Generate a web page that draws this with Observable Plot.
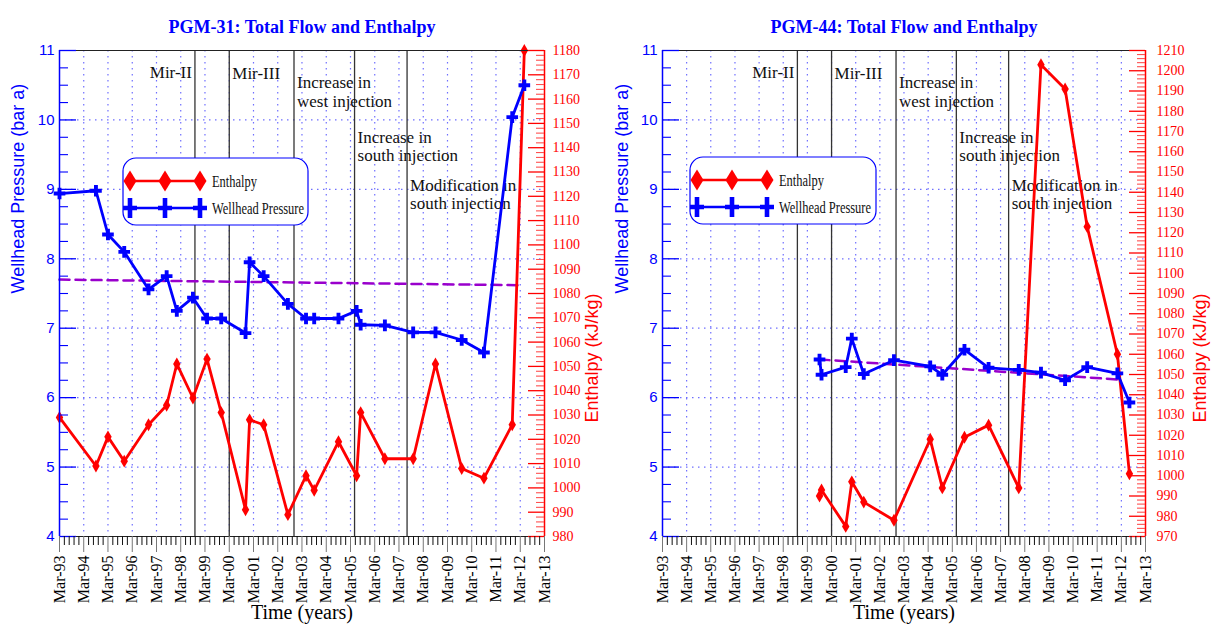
<!DOCTYPE html>
<html><head><meta charset="utf-8">
<script src="https://cdn.jsdelivr.net/npm/d3@7"></script>
<script src="https://cdn.jsdelivr.net/npm/@observablehq/plot@0.6"></script>
<style>
body{margin:0;background:#fff;}
#wrap{display:flex;width:1216px;height:624px;overflow:hidden;}
</style></head><body><div id="wrap"></div>
<script>
// ---------- data ----------
const xTickLabels = ["Mar-93","Mar-94","Mar-95","Mar-96","Mar-97","Mar-98","Mar-99","Mar-00","Mar-01","Mar-02","Mar-03","Mar-04","Mar-05","Mar-06","Mar-07","Mar-08","Mar-09","Mar-10","Mar-11","Mar-12","Mar-13"];
const pressureTicks = [4,5,6,7,8,9,10,11];
const eventDates = ["1998-10","2000-03","2002-11","2005-05","2007-07"];
const eventLabels = ["Mir-II","Mir-III","Increase in\nwest injection","Increase in\nsouth injection","Modification in\nsouth injection"];
const seriesNames = ["Enthalpy","Wellhead Pressure"];

const pgm31Dates = ["1993-03","1994-09","1995-03","1995-11","1996-11","1997-08","1998-01","1998-09","1999-04","1999-11","2000-11","2001-01","2001-08","2002-08","2003-05","2003-09","2004-09","2005-06","2005-08","2006-08","2007-10","2008-09","2009-10","2010-09","2011-11","2012-05"];
const pgm31Pressure = [8.94,8.98,8.35,8.10,7.56,7.75,7.25,7.44,7.14,7.14,6.93,7.95,7.75,7.35,7.14,7.14,7.14,7.25,7.05,7.04,6.94,6.94,6.83,6.65,10.04,10.50];
const pgm31Enthalpy = [1029,1009,1021,1011,1026,1034,1051,1037,1053,1031,991,1028,1026,989,1005,999,1019,1005,1031,1012,1012,1051,1008,1004,1026,1180];
const pgm31TrendDates = ["1993-03","2012-02"];
const pgm31TrendValues = [7.70,7.62];
const pgm31EnthalpyRange = [980,1180];

const pgm44Dates = ["1999-09","1999-10","2000-10","2001-01","2001-07","2002-10","2004-04","2004-10","2005-09","2006-09","2007-12","2008-11","2009-11","2010-10","2012-01","2012-07"];
const pgm44Pressure = [6.55,6.33,6.44,6.85,6.34,6.54,6.45,6.33,6.69,6.43,6.40,6.36,6.25,6.44,6.35,5.93];
const pgm44Enthalpy = [990,993,975,997,987,978,1018,994,1019,1025,994,1203,1191,1123,1060,1001];
const pgm44TrendDates = ["1999-09","2012-02"];
const pgm44TrendValues = [6.55,6.26];
const pgm44EnthalpyRange = [970,1210];

// ---------- rendering ----------
const parse = d3.utcParse("%Y-%m");
const BLUE = "#0000ff", RED = "#ff0000", PURPLE = "#9900cc", GRID = "#6f6fff";
const SERIF = "Liberation Serif, Times New Roman, serif";
const SANS = "Liberation Sans, Arial, sans-serif";
const YEAR_MS = 365.25 * 24 * 3600 * 1000;

function panel(cfg) {
  const W = 608, H = 624, mt = 50, mb = 88;
  const fw = W - cfg.ml - cfg.mr;
  const toP = d3.scaleLinear().domain(cfg.hRange).range([4, 11]);
  const x0 = new Date(Date.UTC(1993, 2, 1)), x1 = new Date(Date.UTC(2013, 2, 1));
  const majorX = xTickLabels.map((_, k) => new Date(Date.UTC(1993 + k, 2, 1)));
  const labelMap = new Map(majorX.map((d, i) => [+d, xTickLabels[i]]));
  const minorX = [];
  majorX.slice(0, -1).forEach(d => { for (let j = 1; j < 5; j++) minorX.push(new Date(+d + j * 0.2 * YEAR_MS)); });
  const minorP = d3.range(4, 11.001, 0.25).filter(v => Math.abs(v - Math.round(v)) > 1e-6);
  const hMajor = d3.range(cfg.hRange[0], cfg.hRange[1] + 0.1, 10);
  const hMinor = d3.range(cfg.hRange[0], cfg.hRange[1] + 0.1, 2).filter(v => v % 10 !== 0);

  const rows = cfg.dates.map((d, i) => ({date: parse(d), p: cfg.pressure[i], h: cfg.enthalpy[i]}));
  const trend = cfg.trendDates.map((d, i) => ({date: parse(d), p: cfg.trendValues[i]}));
  const events = eventDates.map((d, i) => ({date: parse(d), label: eventLabels[i], i}));
  const evTop = [10.78, 10.78, 10.64, 9.86, 9.16];

  const svg = Plot.plot({
    width: W, height: H, marginLeft: cfg.ml, marginRight: cfg.mr, marginTop: mt, marginBottom: mb,
    x: {type: "utc", domain: [x0, x1], label: null},
    y: {domain: [4, 11], label: null},
    marks: [
      // grid
      Plot.ruleY(pressureTicks.slice(1, -1), {stroke: GRID, strokeDasharray: "1.5,4.5", strokeWidth: 1.2}),
      Plot.ruleX(majorX.slice(1, -1), {stroke: GRID, strokeDasharray: "1.5,4.5", strokeWidth: 1.2}),
      // events
      Plot.ruleX(events, {x: "date", stroke: "#333", strokeWidth: 1.3}),
      Plot.text(events.slice(0, 1), {x: "date", y: d => evTop[d.i], text: "label", textAnchor: "end", lineAnchor: "top", dx: -3, fontFamily: SERIF, fontSize: 17, fill: "#111"}),
      Plot.text(events.slice(1), {x: "date", y: d => evTop[d.i], text: "label", textAnchor: "start", lineAnchor: "top", dx: 3, lineHeight: 1.07, fontFamily: SERIF, fontSize: 17, fill: "#111"}),
      // trend
      Plot.line(trend, {x: "date", y: "p", stroke: PURPLE, strokeWidth: 2.5, strokeDasharray: "10,6"}),
      // enthalpy
      Plot.line(rows, {x: "date", y: d => toP(d.h), stroke: RED, strokeWidth: 2.8}),
      Plot.dot(rows, {x: "date", y: d => toP(d.h), symbol: "diamond", r: 3.9, fill: RED}),
      // pressure
      Plot.line(rows, {x: "date", y: "p", stroke: BLUE, strokeWidth: 2.8}),
      Plot.dot(rows, {x: "date", y: "p", symbol: "cross", r: 4.9, fill: BLUE}),
      // frame
      Plot.ruleY([11], {stroke: "#222", strokeWidth: 1.2}),
      Plot.ruleY([4], {stroke: "#222", strokeWidth: 1.2}),
      Plot.ruleX([x0], {stroke: BLUE, strokeWidth: 1.5}),
      Plot.ruleX([x1], {stroke: RED, strokeWidth: 1.5}),
      // left axis ticks + labels
      Plot.tickY(pressureTicks, {y: d => d, stroke: BLUE, strokeWidth: 1.3, insetRight: fw - 17}),
      Plot.tickY(minorP, {y: d => d, stroke: BLUE, strokeWidth: 1.1, insetRight: fw - 9}),
      Plot.axisY({anchor: "left", label: null, ticks: pressureTicks, tickSize: 0, tickPadding: 5, tickFormat: d => String(d), color: BLUE, fontFamily: SANS, fontSize: 15}),
      // right axis ticks + labels
      Plot.tickY(hMajor.map(v => toP(v)), {y: d => d, stroke: RED, strokeWidth: 1.3, insetLeft: fw - 16}),
      Plot.tickY(hMinor.map(v => toP(v)), {y: d => d, stroke: "#ff5050", strokeWidth: 1.1, insetLeft: fw - 8}),
      Plot.axisY({anchor: "right", label: null, ticks: hMajor.map(v => toP(v)), tickSize: 0, tickPadding: cfg.rPad, tickFormat: p => String(Math.round(toP.invert(p))), color: RED, fontFamily: SERIF, fontSize: 14}),
      // x axis
      Plot.axisX({label: null, ticks: minorX, tickSize: 9, tickFormat: () => "", stroke: "#111"}),
      Plot.axisX({label: null, ticks: majorX, tickSize: 16, tickPadding: 3, tickRotate: -90, textAnchor: "end", tickFormat: d => labelMap.get(+d), stroke: "#777", fill: "#000", fontFamily: SERIF, fontSize: 16}),
      // titles
      Plot.text([cfg.title], {frameAnchor: "top", dy: -30, fontFamily: SERIF, fontWeight: "bold", fontSize: 18, fill: BLUE}),
      Plot.text(["Time (years)"], {frameAnchor: "bottom", dy: 76, lineAnchor: "middle", fontFamily: SERIF, fontSize: 20, fill: "#000"}),
      Plot.text(["Wellhead Pressure (bar a)"], {frameAnchor: "left", dx: cfg.lLab, rotate: -90, fontFamily: SANS, fontSize: 18, fill: BLUE}),
      Plot.text(["Enthalpy (kJ/kg)"], {frameAnchor: "right", dx: cfg.rLab, rotate: -90, fontFamily: SANS, fontSize: 18, fill: RED})
    ]
  });

  // legend box
  const b = cfg.legend;
  const g = d3.select(svg).append("g").attr("text-anchor", "start");
  g.append("rect").attr("x", b.x).attr("y", b.y).attr("width", b.w).attr("height", b.h)
    .attr("rx", 13).attr("fill", "white").attr("stroke", BLUE).attr("stroke-width", 1.2);
  const rowsY = [b.y + 23, b.y + 50];
  const mx = [b.x + 7, b.x + 42, b.x + 77];
  const colors = [RED, BLUE];
  rowsY.forEach((ry, r) => {
    g.append("line").attr("x1", mx[0]).attr("x2", mx[2]).attr("y1", ry).attr("y2", ry)
      .attr("stroke", colors[r]).attr("stroke-width", 2.6);
    mx.forEach(cx => {
      if (r === 0) {
        g.append("path").attr("d", `M${cx},${ry - 10.5}L${cx + 6.5},${ry}L${cx},${ry + 10.5}L${cx - 6.5},${ry}Z`).attr("fill", RED);
      } else {
        g.append("path").attr("d", `M${cx - 7},${ry - 2.3}h14v4.6h-14zM${cx - 2.3},${ry - 10}h4.6v20h-4.6z`).attr("fill", BLUE);
      }
    });
    g.append("text").attr("x", b.x + 89).attr("y", ry + 6).text(seriesNames[r])
      .attr("text-anchor", "start")
      .attr("font-family", SERIF).attr("font-size", 17).attr("fill", "#111")
      .attr("textLength", r === 0 ? 45 : 92).attr("lengthAdjust", "spacingAndGlyphs");
  });
  return svg;
}

const wrap = document.getElementById("wrap");
wrap.appendChild(panel({
  title: "PGM-31: Total Flow and Enthalpy", ml: 59, mr: 64, rPad: 8, lLab: -41, rLab: 48,
  dates: pgm31Dates, pressure: pgm31Pressure, enthalpy: pgm31Enthalpy,
  trendDates: pgm31TrendDates, trendValues: pgm31TrendValues, hRange: pgm31EnthalpyRange,
  legend: {x: 123, y: 158, w: 185, h: 67}
}));
wrap.appendChild(panel({
  title: "PGM-44: Total Flow and Enthalpy", ml: 54, mr: 71, rPad: 11, lLab: -40, rLab: 55,
  dates: pgm44Dates, pressure: pgm44Pressure, enthalpy: pgm44Enthalpy,
  trendDates: pgm44TrendDates, trendValues: pgm44TrendValues, hRange: pgm44EnthalpyRange,
  legend: {x: 82, y: 157, w: 186, h: 67}
}));
</script></body></html>
